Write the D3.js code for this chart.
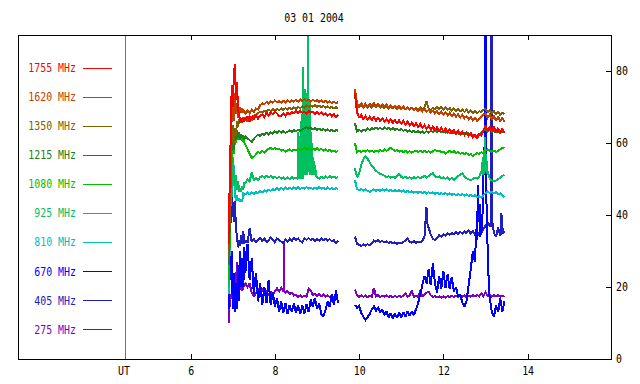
<!DOCTYPE html>
<html><head><meta charset="utf-8">
<script src="https://cdn.jsdelivr.net/npm/d3@7"></script>
<style>
html,body{margin:0;padding:0;background:#fff;}
svg{display:block;}
</style></head><body>
<svg id="c" width="640" height="384"></svg>
<script>
// ---------- data ----------
const title = "03 01 2004";
const freqs = ["1755 MHz","1620 MHz","1350 MHz","1215 MHz","1080 MHz","925 MHz","810 MHz","670 MHz","405 MHz","275 MHz"];
const colors = ["#ff0000","#c04000","#806000","#208020","#00c000","#00c060","#00c0c0","#0000ff","#2020c0","#8000c0"];
const xTicks = [6,8,10,12,14];
const yTicks = [0,20,40,60,80];
const xLabel = "UT";
const utHour = 4.45;

const seg1Times = [6.9,6.925,6.95,6.975,7,7.025,7.05,7.075,7.1,7.125,7.15,7.175,7.2,7.225,7.25,7.275,
7.3,7.35,7.4,7.45,7.5,7.55,7.6,7.65,7.7,7.75,7.8,7.85,7.9,7.95,8,8.05,8.1,8.15,8.2,8.25,8.3,8.35,8.4,8.45,8.5,8.55,8.6,8.65,8.7,8.75,8.8,8.85,8.9,8.95,9,9.05,9.1,9.15,9.2,9.25,9.3,9.35,9.4,9.45,9.5];
const seg2Times = [9.9,9.95,10,10.05,10.1,10.15,10.2,10.25,10.3,10.35,10.4,10.45,10.5,10.55,10.6,10.65,10.7,10.75,10.8,10.85,10.9,10.95,11,11.05,11.1,11.15,11.2,11.25,11.3,11.35,11.4,11.45,11.5,11.55,11.6,11.65,11.7,11.75,11.8,11.85,11.9,11.95,12,12.05,12.1,12.15,12.2,12.25,12.3,12.35,12.4,12.45,12.5,12.55,12.6,12.65,12.7,12.75,12.8,12.85,12.9,12.95,13,13.05,13.1,13.15,13.2,13.25,13.3,13.35,13.4,13.45];

// 1755 MHz
const f1755a = [32,48,62,76,70,79,82,72,77,69,68,66,67,65.5,67,66,
66.5,67.5,66,67.5,66.5,67.8,66.8,67.5,68,67.2,68.4,67.6,68.5,68,68.8,68.2,67.5,67.6,68.2,67.5,68.4,68,68.6,68.2,68.8,68.3,68.9,68.4,68.6,68.2,68.9,68.4,68.7,68.1,68.6,68,68.5,67.8,68.3,67.6,68.1,67.4,68,67.3,67.8];
const f1755b = [74,68.5,67,67.8,66.6,67.5,66.5,67.3,66.4,67.2,66.2,67,66.1,66.9,65.9,66.7,65.8,66.5,65.6,66.4,
65.5,66.3,65.4,66.1,65.2,65.9,64.9,65.7,64.7,65.5,64.5,65.3,64.2,65,64,64.8,63.8,64.6,63.6,64.4,
63.4,64.2,63.2,64,63,63.8,62.8,63.6,62.6,63.4,62.4,63.2,62.2,63,62,62.8,61.5,62.2,61.2,62.5,
62,63.5,64.8,63.5,64.6,63.2,64.5,62.8,64.2,62.6,64,62.8];
// 1620 MHz
const f1620a = [30,42,58,68,72,66,74,68,71,67,69.5,70,68.5,69.8,68.5,69,
68,69,68.3,69.2,68.6,69.6,69.3,70.5,71,70.8,71.4,71,71.6,71.2,71.8,71.3,71.6,71.2,71.7,71.3,71.9,71.4,71.8,71.5,72,71.5,72.1,71.6,72.2,71.7,72,71.5,72,71.6,71.9,71.4,71.8,71.3,71.7,71.2,71.6,71.1,71.5,71,71.3];
const f1620b = [75,71,70.3,71,70.2,70.9,70.1,70.8,70.4,71.1,70.3,70.9,70.2,70.7,70,70.6,69.9,70.5,69.8,70.4,
69.7,70.3,69.6,70.1,69.4,69.9,69.2,69.8,69.1,69.6,68.9,69.5,68.8,69.6,68.6,69.2,68.4,69,68.2,68.8,
68,68.7,67.9,68.5,67.7,68.4,67.5,68.2,67.3,68,67.1,67.8,66.9,67.5,66.6,67.2,66.2,67,66.1,66.8,
67.2,67.9,68.3,67,67.8,66.5,67.6,66.2,67.3,66,67,65.8];
// 1350 MHz
const f1350a = [28,38,52,62,65,60,64,62,66,64.5,66.5,65.5,67,66,67.2,66.2,
67,66,67.2,66.4,67.5,67.9,68.3,68.7,68.5,69,68.7,69.2,68.9,69.4,69,69.5,69.1,69.6,69.2,69.7,69.3,69.8,69.4,69.9,69.5,70,69.6,70.2,69.8,70.4,70,70.5,70.1,70.5,70,70.4,69.9,70.3,69.8,70.2,69.7,70.1,69.6,70,69.6];
const f1350b = [73,70.5,70,70.6,69.9,70.5,69.8,70.4,69.8,70.5,69.9,70.4,69.8,70.3,69.7,70.2,69.6,70.1,69.6,70.1,
69.5,70,69.4,70,69.4,69.9,69.3,69.8,69.2,69.8,69.3,69.9,69.3,70,71.5,69.6,69.2,69.8,69.3,69.9,
69.4,70,69.3,69.8,69.2,69.7,69,69.6,68.9,69.5,68.8,69.3,68.6,69.2,68.5,69,68.3,68.9,68.2,68.8,
68.6,69.2,69.5,68.6,69.1,68.3,68.9,68,68.6,67.8,68.4,67.9];
// 1215 MHz
const f1215a = [26,36,50,60,63,58,62,61,63.5,61.5,63,61,62.5,61.5,62.2,61,
62,61.3,60.8,60.3,61.2,61.8,62.3,62,62.6,62.2,62.8,62.4,63,62.6,63.2,62.8,63.4,62.9,63.3,62.8,63.1,63.5,63.1,63.6,63.2,63.7,63.3,63.8,64.1,64.4,64,64.3,63.8,64.1,63.6,64,63.5,63.9,63.4,63.8,63.3,63.7,63.2,63.6,63.4];
const f1215b = [65.5,63.2,63.6,63.2,63.7,63.4,64,63.6,64.2,63.8,64.3,63.9,64.2,63.8,64.3,63.9,64.2,63.7,64.1,63.6,
64,63.5,63.9,63.4,63.7,63.2,63.5,63,63.4,62.9,63.3,62.9,63.2,62.8,63.3,62.9,63.4,63,63.5,63.1,
63.4,63,63.3,62.9,63.2,62.8,63.1,62.7,63,62.6,62.9,62.5,62.8,62.4,62.7,62.3,62.2,61.8,62,62.4,
62.8,63.4,63.9,63.2,63.6,63,63.4,62.9,63.3,62.8,63.2,62.8];
// 1080 MHz
const f1080a = [22,32,45,57,60,57,61,60,62.5,61,62.5,61,62,60.5,61,60,
59.5,58.3,57,55.8,56.2,56.8,57.5,57.2,57.8,57.4,58,58.4,58.6,58.2,58.7,58.2,58.4,57.9,58.1,57.6,57.9,58.2,57.8,58.2,57.9,58.3,57.9,58.4,58.7,58.2,58.5,58,58.4,58.1,58.6,58.1,58.4,57.9,58.2,57.8,58.1,57.6,57.9,57.5,57.8];
const f1080b = [60,57.5,57.9,57.5,57.9,57.6,58,57.6,57.9,57.5,57.9,57.6,58.1,57.7,58.2,57.8,58.3,58.7,58.2,57.8,
58,57.6,57.9,57.5,57.8,57.4,57.7,57.3,57.6,57.9,57.5,57.9,57.5,57.8,57.4,57.7,57.3,57.7,58.1,57.7,
57.9,57.4,57.6,57.1,57.5,57.8,57.4,57.7,57.2,57.5,57,57.3,56.9,57.2,56.7,56.9,56.3,56.8,57.2,57,
57.4,57.2,57.8,58.2,57.9,57.6,57.9,57.5,57.8,58.2,58.6,58.8];
// 925 MHz
const f925a = [20,35,52,45,56,50,48,51,47,49.5,46.5,47.5,46.5,48,47,49,
49,49.8,49.3,52,49.6,50.2,49.8,50.5,50.8,50.4,50.9,50.5,50.8,50.3,50.7,50.2,50.6,50.1,50.5,50,50.4,50,50.5,50.1,50.4,
50.3,50.5,50.2,50.6,50.4,50.7,50.3,50.6,50.2,
50.5,50.1,50.6,50.2,50.7,50.3,50.8,50.4,50.7,50.3,50.6];
const f925b = [53,50.5,51.5,54,55.5,56.2,55.6,54.6,53.6,53,52.3,51.8,51.4,51.2,50.9,50.5,50.8,50.4,50.7,50.3,
50.8,51.4,50.6,50.3,50.6,50.2,50.5,50.1,50.5,50.2,50.6,50.2,50.5,50.9,50.4,50.8,51.3,51.6,50.9,50.4,
50.7,50.2,50.5,50,50.4,49.9,50.3,49.8,50.2,50.8,51.2,51.5,50.8,50.2,49.9,49.6,50,50.4,50.1,50.6,
52,53,53,52,50.2,49.6,49.3,49.6,50,50.4,50.9,51.2];
const f925burst1 = [[8.54,50],[8.55,63],[8.56,50],[8.57,58],[8.58,50],[8.59,62],[8.60,51],[8.61,64],[8.62,50],[8.63,66],[8.64,51],[8.65,68],[8.66,50],[8.67,81],[8.68,51],[8.69,67],[8.70,52],[8.71,75],[8.72,51],[8.73,74],[8.74,52],[8.75,68],[8.76,51],[8.77,69],[8.78,52],[8.79,95],[8.80,53],[8.81,66],[8.82,52],[8.83,72],[8.84,51],[8.85,63],[8.86,52],[8.87,60],[8.88,51],[8.89,58],[8.90,51],[8.91,56],[8.92,51],[8.93,55],[8.94,51],[8.95,54],[8.96,51],[8.97,52.5],[8.98,50.8]];
const f925burst2 = [[12.92,52],[12.93,55],[12.94,51],[12.95,56],[12.96,51.5],[12.97,58],[12.98,52],[12.99,61.7],[13.00,53],[13.01,57],[13.02,52],[13.03,55],[13.04,51.5]];
// 810 MHz
const f810a = [18,30,45,52,48,54,46,44,45.5,44,44.6,43.6,44.2,43.8,46.3,45.5,
45.8,46.2,45.8,46.3,45.9,46.4,46,46.6,46.3,46.8,46.5,47,46.7,47.2,46.9,47.4,47,47.5,47.1,47.6,47.2,47.6,47.2,47.7,47.3,47.7,47.2,47.6,47.3,47.7,47.3,47.6,47.2,47.6,47.3,47.7,47.3,47.6,47.2,47.6,47.2,47.5,47.1,47.5,47.2];
const f810b = [49.7,47.2,46.9,47.2,46.8,47.1,46.7,46.4,46.8,47.1,46.7,47,46.7,47.1,46.8,47.1,46.7,47,46.6,46.9,
46.5,46.9,46.5,46.8,46.4,46.7,46.3,46.6,46.2,46.5,46.2,46.5,46.1,46.4,46,46.3,46,46.3,45.9,46.2,
45.8,46.1,45.8,46.1,45.7,46,45.6,45.9,45.5,45.8,45.5,45.8,45.4,45.7,45.3,45.6,45.2,45.5,44.9,45.2,
44.8,45.5,46.1,46.5,46.1,46.4,46,46.3,45.8,46,45.4,45];
// 670 MHz
const f670a = [14,38,22,30,14,24,13,21,14,26,16,30,20,28,20,31,
24,32,22,28,18,24,16,21,15,20,15.5,22,15,18.5,14.5,17,13,16,12.8,15.5,12.5,15,13,15.5,12.8,15,12.5,14.8,12.6,15.2,13,16.5,14.5,17,14,15.5,12.5,11.7,13.5,16,14.5,18,15,19,15.5];
const f670b = [15,14.2,14.8,12.8,11.8,10.8,11.6,12.5,13.8,14.6,13.4,14.2,13,13.8,12.2,13.2,11.5,12.8,11.3,12.6,
11.4,12.9,11.6,13,11.8,13.2,12,13.3,12.2,13.8,15.5,18,20.5,23,21,25,20.5,26.5,21,18.5,
23,19.5,24.5,19.8,23.5,19.5,22.8,18.8,20,17.2,18,15.6,14.5,16.2,20.5,25,30,27,40,36,
34,60,95,30,17,13,11.7,15,13,17,13.2,16];
const f670burst = [[12.76,30],[12.78,36],[12.80,33],[12.82,48.3],[12.84,38],[12.86,43],[12.88,34],[12.90,40],[12.92,36],[12.95,50],[12.98,60],[12.99,95],[13.005,95],[13.02,45],[13.05,31],[13.07,24],[13.08,19]];
// 405 MHz
const f405a = [16,28,40,45,43,38,44,36,34,31,33,31.5,34.5,32,35.4,32,
33,32.2,36.4,32.5,33.5,32.3,33.2,33.6,32.8,33.5,32.5,32.9,33.8,33.2,32.4,33.5,33,32.6,32.2,33.2,32.6,33.4,32.8,33.6,33.1,33.5,32.8,32.4,33.6,33.1,33.6,33,33.4,32.8,33.3,32.9,33.5,33,33.4,32.9,33.3,32.7,33,32.3,32.8];
const f405b = [34,32,31.7,31.4,31.8,31.5,31.9,31.6,32.2,32.9,32.6,33,32.5,32.8,32.4,32.7,32.2,32.5,32.1,32.4,
32,32.3,32.1,32.5,32.9,33.5,32.6,32.3,32.7,32.3,32.6,32.4,32.8,34,38,36.5,34.5,33.4,33,33.6,
34.4,34,34.6,34.3,34.9,34.5,35,34.6,35.2,34.7,35.3,34.8,35.4,35,35.8,34.8,35.5,34.6,35.2,34.5,
35,36,37,38,37,36,35,34,36.5,34.2,38,35.5];
const f405spike1 = [[11.57,36],[11.585,42.3],[11.595,40],[11.61,42],[11.625,37]];
const f405spike2 = [[13.12,37],[13.14,95],[13.15,95],[13.165,38]];
const f405spike3 = [[13.36,35],[13.37,40.5],[13.38,34.5],[13.39,40],[13.41,35]];
// 275 MHz
const f275a = [10,15,17,18.3,17.5,18.5,17.3,21,27,24,20,19.2,20,19,19.8,20.5,
21,20,21,18.3,17.5,18.2,19.4,18.6,19.2,18.2,18.8,17.9,18.6,18,18.8,19.6,18.8,19.8,18.9,18.5,18.9,18,18.4,17.6,17.9,17.3,17.7,17.2,17.6,17.3,19.5,19,17.8,18.2,17.6,18,17.4,17.9,17.3,17.7,17.2,17.6,17.1,17.8,17.3];
const f275b = [19.3,17.6,17.3,17.7,17.3,17.6,17.2,17.6,17.3,19.7,17.4,17.7,17.2,17.6,17.3,17.7,17.2,17.5,17.1,17.5,
17.2,17.6,17.2,17.6,18.3,17.3,17.7,19,17.3,17.6,17.2,19,17.4,17.9,18.4,18.7,17.7,17.2,17.5,17.1,
17.4,17,17.4,17.1,17.5,17.2,17.6,17.2,17.6,17.3,17.7,17.3,17.6,17.2,17.6,17.3,17.7,17.4,17.8,17.4,
18.2,17.5,18.5,17.5,17.9,17.3,17.7,17.4,17.8,17.3,17.6,17.3];
const f275spike = [[8.205,18.9],[8.21,32.2],[8.215,19]];

// ---------- table built from the arrays ----------
function build(times, vals, dets){
  let p = times.map((t,i)=>[t, vals[i]]);
  dets.forEach(d=>{
    const lo=d[0][0]-1e-6, hi=d[d.length-1][0]+1e-6;
    p = p.filter(q=>q[0]<lo||q[0]>hi).concat(d);
  });
  p.sort((u,v)=>u[0]-v[0]);
  return p;
}
const series = [
  {a:f1755a, b:f1755b, da:[], db:[]},
  {a:f1620a, b:f1620b, da:[], db:[]},
  {a:f1350a, b:f1350b, da:[], db:[]},
  {a:f1215a, b:f1215b, da:[], db:[]},
  {a:f1080a, b:f1080b, da:[], db:[]},
  {a:f925a,  b:f925b,  da:[f925burst1], db:[f925burst2]},
  {a:f810a,  b:f810b,  da:[], db:[]},
  {a:f670a,  b:f670b,  da:[], db:[f670burst]},
  {a:f405a,  b:f405b,  da:[], db:[f405spike1,f405spike2,f405spike3]},
  {a:f275a,  b:f275b,  da:[f275spike], db:[]}
].map((s,i)=>({name:freqs[i], color:colors[i], seg:[build(seg1Times,s.a,s.da), build(seg2Times,s.b,s.db)]}));

// ---------- drawing ----------
const FONT = "DejaVu Sans Mono";
const CH = 5.96;
const svg = d3.select("#c");
const L=18, R=611, T=35, B=359;
const x = d3.scaleLinear().domain([1.9,15.98]).range([L,R]);
const y = d3.scaleLinear().domain([0,90]).range([B,T]);

function txt(sel){
  sel.attr("font-family",FONT).attr("font-size",12)
    .each(function(){ const s=this.textContent; d3.select(this).attr("textLength",s.length*CH).attr("lengthAdjust","spacingAndGlyphs"); });
}

svg.append("text").attr("x",314).attr("y",22).attr("text-anchor","middle").text(title).call(txt);

svg.append("defs").append("clipPath").attr("id","clip")
  .append("rect").attr("x",L).attr("y",T).attr("width",R-L).attr("height",B-T);

// UT separator
svg.append("line").attr("x1",Math.round(x(utHour))+0.5).attr("x2",Math.round(x(utHour))+0.5).attr("y1",T).attr("y2",B)
  .attr("stroke","#707070").attr("shape-rendering","crispEdges");

const line = d3.line().x(d=>x(d[0])).y(d=>y(d[1]));
const g = svg.append("g").attr("clip-path","url(#clip)");
series.slice().reverse().forEach(s=>{
  s.seg.forEach(pts=>{
    g.append("path").attr("d",line(pts)).attr("fill","none").attr("stroke",s.color)
      .attr("stroke-width",2).attr("stroke-linejoin","miter").attr("stroke-miterlimit",2)
      .attr("shape-rendering","crispEdges");
  });
});

// frame
svg.append("rect").attr("x",L+0.5).attr("y",T+0.5).attr("width",R-L).attr("height",B-T)
  .attr("fill","none").attr("stroke","#000").attr("shape-rendering","crispEdges");

// axes
const gb = svg.append("g").attr("transform",`translate(0,${B})`)
  .call(d3.axisBottom(x).tickValues(xTicks).tickSize(-5).tickPadding(7).tickFormat(d3.format("d")));
const gt = svg.append("g").attr("transform",`translate(0,${T})`)
  .call(d3.axisTop(x).tickValues(xTicks).tickSize(-5).tickFormat(""));
const gr = svg.append("g").attr("transform",`translate(${R},0)`)
  .call(d3.axisRight(y).tickValues(yTicks).tickSize(-5).tickPadding(5).tickFormat(d3.format("d")));
[gb,gt,gr].forEach(a=>{ a.select(".domain").remove(); a.selectAll("line").attr("shape-rendering","crispEdges"); a.selectAll("text").call(txt); });

svg.append("text").attr("x",124).attr("y",B+7).attr("dy","0.71em").attr("text-anchor","middle").text(xLabel).call(txt);

// legend
series.forEach((s,i)=>{
  const ly = 67.5 + i*29.1;
  svg.append("text").attr("x",76).attr("y",ly).attr("dy","0.36em").attr("text-anchor","end")
    .attr("fill",s.color).text(s.name).call(txt);
  svg.append("line").attr("x1",83).attr("x2",112).attr("y1",Math.round(ly)+0.5).attr("y2",Math.round(ly)+0.5)
    .attr("stroke",s.color).attr("shape-rendering","crispEdges");
});
</script>
</body></html>
